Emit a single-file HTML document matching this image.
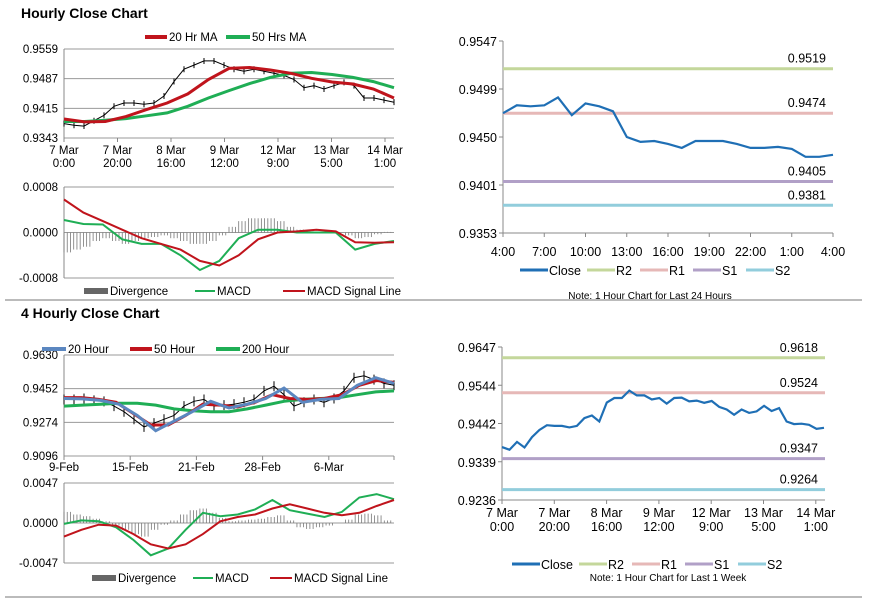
<!DOCTYPE html>
<html><head><meta charset="utf-8"><style>
html,body{margin:0;padding:0;background:#fff;}
svg{display:block;font-family:"Liberation Sans",Arial,sans-serif;}
</style></head><body>
<svg id="c" width="873" height="601" viewBox="0 0 873 601"></svg>
<script>
// ---------- DATA ----------
const hCloseVals=[.9378,.9374,.9372,.9385,.9398,.9420,.9428,.9428,.9425,.9428,.9445,.9480,.9510,.9520,.9530,.9530,.9520,.9510,.9505,.9510,.9505,.9500,.9495,.9485,.9465,.9470,.9462,.9470,.9478,.9470,.9440,.9440,.9435,.9430];
const hMA20=[.9389,.9382,.9383,.9395,.9412,.9428,.9450,.9485,.9512,.9514,.9508,.9500,.9488,.9479,.9474,.9462,.9440];
const hMA50=[.9383,.9383,.9386,.9390,.9397,.9404,.9420,.9440,.9458,.9475,.9490,.9500,.9502,.9497,.9490,.9480,.9465];
const hTicks=["0.9559","0.9487","0.9415","0.9343"];
const hXLabels=[["7 Mar","0:00"],["7 Mar","20:00"],["8 Mar","16:00"],["9 Mar","12:00"],["12 Mar","9:00"],["13 Mar","5:00"],["14 Mar","1:00"]];
const hMacd=[.00022,.00015,.00014,-.00012,-.0002,-.0002,-.0004,-.00066,-.0005,-.0001,.00005,.00005,0,0,0,-.0003,-.0002,-.00015];
const hSignal=[.00058,.00035,.0002,.00005,-.0001,-.0002,-.0003,-.0005,-.00058,-.0004,-.00012,0,.00002,.00005,.00002,-.00017,-.00018,-.00017];
const hDiv=[-.00035,-.0003,-.00025,-.00015,-.0001,-.00015,-.0002,-.00015,-.0001,-.00008,-.00005,-.0001,-.00015,-.0002,-.0002,-.00015,-.00005,.0001,.0002,.00025,.00025,.00025,.0002,.0001,.00005,.00002,0,0,0,-.00005,-.0001,-.00008,-.00003,.00001];
const hMacdTicks=["0.0008","0.0000","-0.0008"];
const dClose=[.9474,.9482,.9481,.9482,.9490,.9472,.9484,.9481,.9476,.9450,.9445,.9446,.9443,.9439,.9446,.9446,.9446,.9443,.9439,.9439,.9440,.9438,.9430,.9430,.9432];
const dLevels=[.9519,.9474,.9405,.9381];
const dLevelLabels=["0.9519","0.9474","0.9405","0.9381"];
const dTicks=["0.9547","0.9499","0.9450","0.9401","0.9353"];
const dXLabels=["4:00","7:00","10:00","13:00","16:00","19:00","22:00","1:00","4:00"];
const fClose=[.9395,.9395,.9400,.9390,.9385,.9360,.9330,.9290,.9250,.9270,.9290,.9310,.9360,.9385,.9395,.9360,.9365,.9370,.9380,.9395,.9440,.9465,.9420,.9360,.9380,.9395,.9380,.9400,.9440,.9510,.9520,.9500,.9480,.9470];
const fMA20=[.9400,.9398,.9390,.9370,.9310,.9230,.9280,.9330,.9385,.9350,.9370,.9400,.9455,.9380,.9395,.9400,.9470,.9510,.9480];
const fMA50=[.9405,.9405,.9395,.9380,.9320,.9260,.9260,.9310,.9370,.9365,.9355,.9380,.9420,.9400,.9395,.9400,.9420,.9470,.9495,.9485];
const fMA200=[.9360,.9365,.9370,.9375,.9375,.9365,.9345,.9335,.9330,.9330,.9345,.9365,.9385,.9395,.9400,.9405,.9420,.9435,.9440];
const fTicks=["0.9630","0.9452","0.9274","0.9096"];
const fXLabels=["9-Feb","15-Feb","21-Feb","28-Feb","6-Mar"];
const fMacd=[-.0001,.0003,.0002,-.0005,-.002,-.0038,-.003,-.0008,.0012,.0008,.001,.0016,.0027,.0015,.0011,.0007,.0013,.003,.0034,.0028];
const fSignal=[-.0016,-.0008,-.0002,-.0003,-.0013,-.0025,-.0030,-.0025,-.0013,.0002,.0007,.0010,.0017,.0022,.0017,.0012,.0009,.0012,.0020,.0027];
const fDiv=[.0013,.0010,.0008,.0005,.0002,-.0003,-.0008,-.0013,-.0016,-.0008,-.0002,.0003,.0010,.0015,.0017,.0012,.0006,.0002,.0003,.0004,.0005,.0007,.0009,.0003,-.0005,-.0007,-.0005,-.0003,0,.0004,.0010,.0011,.0009,.0003];
const fMacdTicks=["0.0047","0.0000","-0.0047"];
const wClose=[.9378,.9371,.9392,.9377,.9405,.9424,.9437,.9435,.9435,.9431,.9435,.9456,.9463,.9447,.9498,.9510,.9510,.9530,.9517,.9517,.9506,.9510,.9495,.9510,.9511,.9501,.9503,.9497,.9502,.9486,.9479,.9465,.9479,.9470,.9474,.9489,.9475,.9483,.9447,.9440,.9441,.9438,.9427,.9430];
const wLevels=[.9618,.9524,.9347,.9264];
const wLevelLabels=["0.9618","0.9524","0.9347","0.9264"];
const wTicks=["0.9647","0.9544","0.9442","0.9339","0.9236"];
const wXLabels=[["7 Mar","0:00"],["7 Mar","20:00"],["8 Mar","16:00"],["9 Mar","12:00"],["12 Mar","9:00"],["13 Mar","5:00"],["14 Mar","1:00"]];

// ---------- DRAW ----------
const svg=document.getElementById('c');
const NS="http://www.w3.org/2000/svg";
function mk(tag,attrs,parent){const e=document.createElementNS(NS,tag);for(const k in attrs)e.setAttribute(k,attrs[k]);(parent||svg).appendChild(e);return e;}
function txt(s,x,y,attrs,parent){const e=mk('text',Object.assign({x:x,y:y,'font-size':11.5,fill:'#000'},attrs||{}),parent);e.textContent=s;return e;}
function lin(v0,v1,p0,p1){return v=>p0+(v-v0)/(v1-v0)*(p1-p0);}
function path(arr,xs,ys,x0,x1){const n=arr.length;return arr.map((v,i)=>(i?'L':'M')+xs(x0+(x1-x0)*i/(n-1)).toFixed(1)+','+ys(v).toFixed(1)).join('');}
const ident=v=>v;
const RED="#c0141c",GREEN="#1fae55",BLUE="#1f6fb5";

let e;
e=mk('line',{x1:5,y1:300,x2:862,y2:300,stroke:'#777','stroke-width':1});

e=mk('line',{x1:5,y1:597,x2:862,y2:597,stroke:'#777','stroke-width':1});

e=txt("Hourly Close Chart",21,18,{'font-size':14,'font-weight':'bold'});

e=txt("4 Hourly Close Chart",21,318,{'font-size':14,'font-weight':'bold'});


function legendLine(g,x,y,w,color,label,thick){mk('line',{x1:x,y1:y,x2:x+w,y2:y,stroke:color,'stroke-width':thick||4},g);txt(label,x+w+2,y+4,{},g);}
function legendBox(g,x,y,w,color,label){mk('rect',{x:x,y:y-3,width:w,height:6,fill:color},g);txt(label,x+w+2,y+4,{},g);}

function hGrid(g,ticks,yTop,yBot,xL,xR,labX){const n=ticks.length;ticks.forEach((t,i)=>{const y=yTop+(yBot-yTop)*i/(n-1);mk('line',{x1:xL,y1:y,x2:xR,y2:y,stroke:'#999','stroke-width':1},g);const l=txt(t,labX,y+4,{'text-anchor':'end'},g);});}

{const g=mk('g',{});
const X0=64,X1=394,ys=lin(.9343,.9559,138,49);
hGrid(g,hTicks,49,138,X0,X1,58);
mk('line',{x1:X0,y1:49,x2:X0,y2:138,stroke:'#888'},g);
hXLabels.forEach((l,i)=>{const x=X0+i*53.5;mk('line',{x1:x,y1:138,x2:x,y2:142,stroke:'#888'},g);txt(l[0],x,154,{'text-anchor':'middle'},g);txt(l[1],x,167,{'text-anchor':'middle'},g);});
const cp=mk('path',{d:path(hCloseVals,ident,ys,X0,X1),fill:'none',stroke:'#000','stroke-width':1},g);

hCloseVals.forEach((v,i)=>{const x=X0+(X1-X0)*i/(hCloseVals.length-1);const b=mk('line',{x1:x,y1:ys(v)-3,x2:x,y2:ys(v)+3,stroke:'#000','stroke-width':1},g);});
let p=mk('path',{d:path(hMA50,ident,ys,X0,X1),fill:'none',stroke:GREEN,'stroke-width':3},g);
p=mk('path',{d:path(hMA20,ident,ys,X0,X1),fill:'none',stroke:RED,'stroke-width':3},g);
const lg=mk('g',{},g);
legendLine(lg,145,37,22,RED,"20 Hr MA");legendLine(lg,226,37,24,GREEN,"50 Hrs MA");}

function macdPanel(name,yTop,yZero,yBot,maxV,ticks,macd,sig,div,leg){const g=mk('g',{});
const X0=64,X1=394,ys=lin(-maxV,maxV,yBot,yTop);
hGrid(g,ticks,yTop,yBot,X0,X1,58);
mk('line',{x1:X0,y1:yTop,x2:X0,y2:yBot,stroke:'#888'},g);
const n=div.length;
for(let i=0;i<n;i++){for(let k=0;k<3;k++){const x=X0+(X1-X0)*(i+k/3)/(n);if(x>X1)break;const b=mk('line',{x1:x,y1:ys(0),x2:x,y2:ys(div[i]),stroke:'#777','stroke-width':0.8},g);}}
let p=mk('path',{d:path(macd,ident,ys,X0,X1),fill:'none',stroke:GREEN,'stroke-width':2},g);
p=mk('path',{d:path(sig,ident,ys,X0,X1),fill:'none',stroke:RED,'stroke-width':2},g);
const lg=mk('g',{},g);
legendBox(lg,leg[0],leg[3],24,'#666',"Divergence");legendLine(lg,leg[1],leg[3],20,GREEN,"MACD",2);legendLine(lg,leg[2],leg[3],22,RED,"MACD Signal Line",2);}
macdPanel('hourly-macd-chart',187,233,278,.0008,hMacdTicks,hMacd,hSignal,hDiv,[84,195,283,291]);
macdPanel('4-hourly-macd-chart',483,523,563,.0047,fMacdTicks,fMacd,fSignal,fDiv,[92,193,270,578]);

{const g=mk('g',{});
const X0=64,X1=394,ys=lin(.9096,.9630,456,355);
hGrid(g,fTicks,355,456,X0,X1,58);
mk('line',{x1:X0,y1:355,x2:X0,y2:456,stroke:'#888'},g);
fXLabels.forEach((l,i)=>{const x=X0+i*66.2;mk('line',{x1:x,y1:456,x2:x,y2:460,stroke:'#888'},g);txt(l,x,471,{'text-anchor':'middle'},g);});
mk('line',{x1:X1,y1:456,x2:X1,y2:460,stroke:'#888'},g);
const cp=mk('path',{d:path(fClose,ident,ys,X0,X1),fill:'none',stroke:'#000','stroke-width':1},g);
fClose.forEach((v,i)=>{const x=X0+(X1-X0)*i/(fClose.length-1);const b=mk('line',{x1:x,y1:ys(v)-5,x2:x,y2:ys(v)+5,stroke:'#000','stroke-width':1},g);});
let p=mk('path',{d:path(fMA200,ident,ys,X0,X1),fill:'none',stroke:GREEN,'stroke-width':3},g);
p=mk('path',{d:path(fMA50,ident,ys,X0,X1),fill:'none',stroke:RED,'stroke-width':3},g);
p=mk('path',{d:path(fMA20,ident,ys,X0,X1),fill:'none',stroke:'#5b87c0','stroke-width':3},g);
const lg=mk('g',{},g);
legendLine(lg,42,349,24,'#5b87c0',"20 Hour");legendLine(lg,130,349,22,RED,"50 Hour");legendLine(lg,216,349,24,GREEN,"200 Hour");}

function levelPanel(name,X0,X1,xEnd,yTop,yBot,vTop,vBot,ticks,close,levels,levelLabels,xl,twoLine,xStep,xLabY,legY,note,noteY){
const g=mk('g',{});
const ys=lin(vBot,vTop,yBot,yTop);const n=ticks.length;
mk('line',{x1:X0,y1:yTop,x2:X0,y2:yBot,stroke:'#888'},g);mk('line',{x1:X0,y1:yBot,x2:X1,y2:yBot,stroke:'#888'},g);
ticks.forEach((t,i)=>{const y=yTop+(yBot-yTop)*i/(n-1);mk('line',{x1:X0-4,y1:y,x2:X0,y2:y,stroke:'#888'},g);const l=txt(t,X0-6,y+5,{'text-anchor':'end','font-size':12.5},g);});
xl.forEach((l,i)=>{const x=X0+i*xStep;mk('line',{x1:x,y1:yBot,x2:x,y2:yBot+4,stroke:'#888'},g);if(twoLine){txt(l[0],x,xLabY,{'text-anchor':'middle','font-size':12.5},g);txt(l[1],x,xLabY+14,{'text-anchor':'middle','font-size':12.5},g);}else txt(l,x,xLabY,{'text-anchor':'middle','font-size':12.5},g);});
const cols=["#c4d79b","#e6b8b7","#b1a0c7","#92cddc"],nm=['r2-line','r1-line','s1-line','s2-line'];
levels.forEach((v,i)=>{const l=mk('line',{x1:X0,y1:ys(v),x2:X1,y2:ys(v),stroke:cols[i],'stroke-width':3},g);const t=txt(levelLabels[i],X1-7,ys(v)-6,{'text-anchor':'end','font-size':12.5},g);});
const p=mk('path',{d:path(close,ident,ys,X0,xEnd),fill:'none',stroke:BLUE,'stroke-width':2.2},g);
const lg=mk('g',{},g);
const labs=["Close","R2","R1","S1","S2"],lc=[BLUE].concat(cols);let x=legY[0];
labs.forEach((s,i)=>{mk('line',{x1:x,y1:legY[1],x2:x+28,y2:legY[1],stroke:lc[i],'stroke-width':3},lg);txt(s,x+29,legY[1]+5,{'font-size':12.5},lg);x+=29+(s.length>2?38:24);});
const nt=txt(note,legY[2],noteY,{'text-anchor':'middle','font-size':10},g);}
levelPanel('24-hour-level-chart',503,833,833,41,233,.9547,.9353,dTicks,dClose,dLevels,dLevelLabels,dXLabels,false,41.25,256,[520,270,650],"Note: 1 Hour Chart for Last 24 Hours",299);
levelPanel('1-week-level-chart',502,825,824,347,500,.9647,.9236,wTicks,wClose,wLevels,wLevelLabels,wXLabels,true,52.3,517,[512,564,668],"Note: 1 Hour Chart for Last 1 Week",581);
</script>
</body></html>
